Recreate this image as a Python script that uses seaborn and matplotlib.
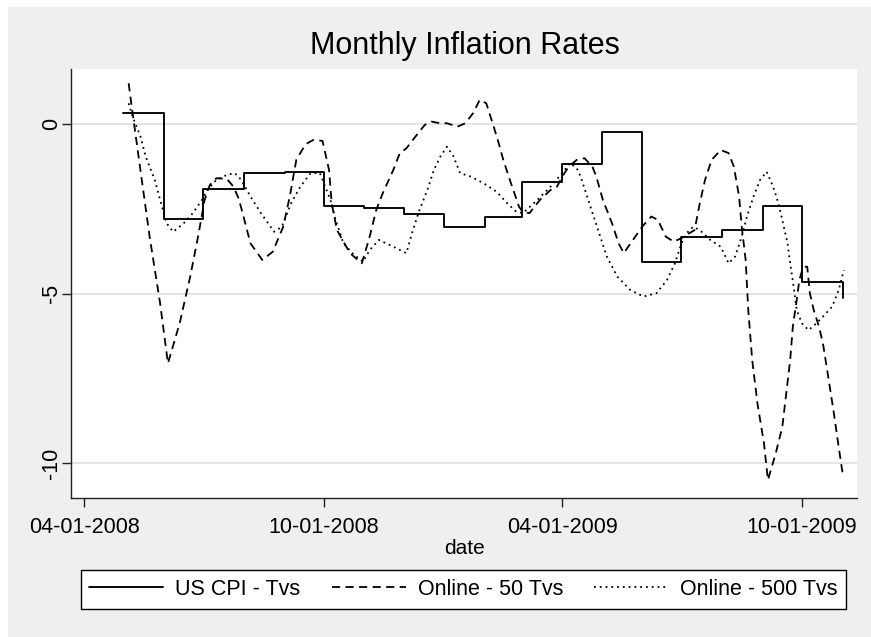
import numpy as np
import pandas as pd
import matplotlib
matplotlib.use("Agg")
import matplotlib.pyplot as plt
import matplotlib.dates as mdates
from matplotlib.patches import Rectangle
import seaborn as sns

# ---------------- data ----------------
cpi_dates = ["2008-05-01", "2008-06-01", "2008-07-01", "2008-08-01", "2008-09-01",
             "2008-10-01", "2008-11-01", "2008-12-01", "2009-01-01", "2009-02-01",
             "2009-03-01", "2009-04-01", "2009-05-01", "2009-06-01", "2009-07-01",
             "2009-08-01", "2009-09-01", "2009-10-01", "2009-11-01"]
cpi_values = [0.33, -2.79, -1.91, -1.45, -1.42, -2.42, -2.47, -2.65, -3.03, -2.74,
              -1.70, -1.18, -0.23, -4.08, -3.32, -3.13, -2.42, -4.67, -5.13]

online50_dates = ["2008-05-05", "2008-05-07", "2008-05-14", "2008-05-21", "2008-05-29",
                  "2008-06-04", "2008-06-13", "2008-06-21", "2008-06-27", "2008-07-02",
                  "2008-07-06", "2008-07-11", "2008-07-19", "2008-07-24", "2008-07-28",
                  "2008-07-31", "2008-08-06", "2008-08-15", "2008-08-23", "2008-08-31",
                  "2008-09-05", "2008-09-10", "2008-09-17", "2008-09-23", "2008-09-30",
                  "2008-10-05", "2008-10-07", "2008-10-11", "2008-10-21", "2008-10-30",
                  "2008-11-05", "2008-11-10", "2008-11-15", "2008-11-23", "2008-11-28",
                  "2008-12-03", "2008-12-10", "2008-12-17", "2008-12-22", "2008-12-29",
                  "2009-01-03", "2009-01-11", "2009-01-17", "2009-01-23", "2009-01-28",
                  "2009-02-02", "2009-02-07", "2009-02-11", "2009-02-15", "2009-02-20",
                  "2009-02-27", "2009-03-02", "2009-03-07", "2009-03-15", "2009-03-23",
                  "2009-03-28", "2009-04-01", "2009-04-06", "2009-04-12", "2009-04-18",
                  "2009-04-24", "2009-04-27", "2009-05-02", "2009-05-09", "2009-05-14",
                  "2009-05-18", "2009-05-25", "2009-06-01", "2009-06-08", "2009-06-13",
                  "2009-06-19", "2009-06-25", "2009-07-01", "2009-07-08", "2009-07-11",
                  "2009-07-15", "2009-07-19", "2009-07-24", "2009-07-31", "2009-08-06",
                  "2009-08-10", "2009-08-14", "2009-08-16", "2009-08-19", "2009-08-21",
                  "2009-08-24", "2009-08-28", "2009-09-02", "2009-09-05", "2009-09-11",
                  "2009-09-16", "2009-09-19", "2009-09-22", "2009-09-24", "2009-09-27",
                  "2009-09-29", "2009-10-02", "2009-10-05", "2009-10-07", "2009-10-10",
                  "2009-10-14", "2009-10-17", "2009-10-21", "2009-10-25", "2009-10-29",
                  "2009-11-01"]
online50_values = [1.20, 0.61, -1.36, -3.32, -5.28,
                   -7.06, -5.87, -4.50, -3.32, -2.24,
                   -1.80, -1.60, -1.62, -1.85, -2.20,
                   -2.63, -3.52, -4.01, -3.77, -3.03,
                   -2.14, -1.06, -0.60, -0.47, -0.50,
                   -1.36, -2.34, -3.13, -3.81, -4.11,
                   -3.32, -2.54, -2.04, -1.36, -0.86,
                   -0.72, -0.37, -0.03, 0.07, 0.02,
                   0.02, -0.08, 0.02, 0.32, 0.71,
                   0.61, 0.00, -0.50, -1.06, -1.65,
                   -2.44, -2.60, -2.63, -2.24, -1.95,
                   -1.85, -1.55, -1.26, -1.06, -1.01,
                   -1.26, -1.55, -2.24, -2.93, -3.52,
                   -3.81, -3.42, -3.03, -2.73, -2.83,
                   -3.32, -3.47, -3.37, -3.20, -3.13,
                   -2.34, -1.65, -1.06, -0.77, -0.86,
                   -1.26, -2.14, -3.03, -4.01, -5.49,
                   -6.96, -8.24, -9.42, -10.50, -9.71,
                   -8.93, -7.94, -6.96, -5.98, -5.19,
                   -4.60, -4.21, -4.21, -4.99, -5.49,
                   -5.98, -6.47, -7.45, -8.44, -9.52,
                   -10.30]

online500_dates = ["2008-05-05", "2008-05-08", "2008-05-14", "2008-05-18", "2008-05-25",
                   "2008-05-29", "2008-06-03", "2008-06-08", "2008-06-16", "2008-06-23",
                   "2008-06-30", "2008-07-04", "2008-07-11", "2008-07-19", "2008-07-25",
                   "2008-07-30", "2008-08-06", "2008-08-14", "2008-08-24", "2008-08-30",
                   "2008-09-06", "2008-09-13", "2008-09-21", "2008-09-28", "2008-10-06",
                   "2008-10-10", "2008-10-16", "2008-10-24", "2008-10-31", "2008-11-05",
                   "2008-11-12", "2008-11-23", "2008-12-03", "2008-12-08", "2008-12-13",
                   "2008-12-19", "2008-12-24", "2008-12-29", "2009-01-03", "2009-01-08",
                   "2009-01-13", "2009-01-21", "2009-01-31", "2009-02-10", "2009-02-18",
                   "2009-02-25", "2009-03-02", "2009-03-13", "2009-03-23", "2009-04-01",
                   "2009-04-07", "2009-04-12", "2009-04-15", "2009-04-20", "2009-04-25",
                   "2009-04-30", "2009-05-05", "2009-05-13", "2009-05-23", "2009-06-02",
                   "2009-06-12", "2009-06-20", "2009-06-26", "2009-07-01", "2009-07-05",
                   "2009-07-10", "2009-07-15", "2009-07-23", "2009-07-31", "2009-08-06",
                   "2009-08-11", "2009-08-16", "2009-08-20", "2009-08-25", "2009-08-30",
                   "2009-09-04", "2009-09-09", "2009-09-13", "2009-09-16", "2009-09-20",
                   "2009-09-22", "2009-09-25", "2009-09-27", "2009-10-01", "2009-10-06",
                   "2009-10-12", "2009-10-17", "2009-10-24", "2009-10-29", "2009-11-02"]
online500_values = [0.61, 0.22, -0.37, -0.96, -1.65,
                    -2.24, -2.93, -3.18, -2.93, -2.63,
                    -2.24, -1.95, -1.65, -1.50, -1.45,
                    -1.65, -2.14, -2.63, -3.18, -3.03,
                    -2.34, -1.85, -1.45, -1.45, -2.24,
                    -2.83, -3.52, -3.86, -4.06, -3.72,
                    -3.42, -3.62, -3.81, -3.13, -2.54,
                    -1.95, -1.36, -0.96, -0.67, -0.96,
                    -1.45, -1.55, -1.75, -2.00, -2.34,
                    -2.59, -2.63, -2.24, -1.85, -1.45,
                    -1.15, -1.30, -1.55, -2.14, -2.73,
                    -3.32, -3.91, -4.50, -4.90, -5.09,
                    -4.99, -4.60, -4.11, -3.52, -3.22,
                    -3.03, -3.13, -3.42, -3.62, -4.11,
                    -3.91, -3.32, -2.73, -2.14, -1.65,
                    -1.41, -1.85, -2.34, -2.83, -3.52,
                    -4.11, -4.90, -5.49, -5.88, -6.08,
                    -5.88, -5.68, -5.39, -4.90, -4.31]

series_labels = ["US CPI - Tvs", "Online - 50 Tvs", "Online - 500 Tvs"]
xtick_dates = ["2008-04-01", "2008-10-01", "2009-04-01", "2009-10-01"]
ytick_values = [0, -5, -10]
title_text = "Monthly Inflation Rates"
xlabel_text = "date"

# ---------------- style ----------------
sns.set_style("white")
plt.rcParams["font.family"] = ["Liberation Sans", "DejaVu Sans"]
plt.rcParams["text.color"] = "black"
plt.rcParams["axes.labelcolor"] = "black"
plt.rcParams["xtick.color"] = "black"
plt.rcParams["ytick.color"] = "black"

BG = "#EFEFEF"
fig = plt.figure(figsize=(8.71, 6.37), dpi=100)
fig.patch.set_facecolor("white")
fig.patches.append(Rectangle((8 / 871, 0), 1, 1 - 7 / 637, transform=fig.transFigure,
                             facecolor=BG, edgecolor="none", zorder=-10))

ax = fig.add_axes([71 / 871, 1 - 498 / 637, (857 - 71) / 871, (498 - 69) / 637])
ax.set_facecolor("white")

cpi = pd.DataFrame({"date": pd.to_datetime(cpi_dates), "value": cpi_values})
o50 = pd.DataFrame({"date": pd.to_datetime(online50_dates), "value": online50_values})
o500 = pd.DataFrame({"date": pd.to_datetime(online500_dates), "value": online500_values})

sns.lineplot(data=cpi, x="date", y="value", ax=ax, color="black", lw=1.35,
             drawstyle="steps-post", label=series_labels[0])
sns.lineplot(data=o50, x="date", y="value", ax=ax, color="black", lw=1.3,
             linestyle=(0, (4.5, 3)), label=series_labels[1])
sns.lineplot(data=o500, x="date", y="value", ax=ax, color="black", lw=1.3,
             linestyle=(0, (1, 2.2)), label=series_labels[2])

ax.set_xlim(pd.Timestamp("2008-03-22"), pd.Timestamp("2009-11-12"))
ax.set_ylim(-11.03, 1.62)

ax.set_xticks(pd.to_datetime(xtick_dates))
ax.xaxis.set_major_formatter(mdates.DateFormatter("%m-%d-%Y"))
ax.set_yticks(ytick_values)
ax.set_yticklabels([str(v) for v in ytick_values], rotation=90, va="center")

ax.tick_params(axis="both", direction="out", length=6.5, width=1, color="#222222",
               labelsize=15.5, labelcolor="black")
ax.tick_params(axis="x", pad=7, bottom=True)
ax.tick_params(axis="y", pad=0, left=True)

ax.grid(axis="y", color="#E4E4E4", lw=1.4)
ax.grid(axis="x", visible=False)
ax.set_axisbelow(True)
for s in ["top", "right"]:
    ax.spines[s].set_visible(False)
for s in ["left", "bottom"]:
    ax.spines[s].set_color("#222222")
    ax.spines[s].set_linewidth(1.0)

ax.set_xlabel(xlabel_text, fontsize=15, labelpad=1, color="black")
ax.set_ylabel("")
fig.text(465 / 871, 1 - 46 / 637, title_text, ha="center", va="center", fontsize=22,
         color="black")

handles, labels = ax.get_legend_handles_labels()
ax.get_legend().remove()
leg = fig.legend(handles, labels, loc="center", bbox_to_anchor=(463.5 / 871, 1 - 589.5 / 637),
                 ncol=3, frameon=True, fancybox=False, edgecolor="black", facecolor="white",
                 fontsize=15.5, handlelength=3.45, columnspacing=1.45, handletextpad=0.55,
                 borderpad=0.4, borderaxespad=0, framealpha=1)
leg.get_frame().set_linewidth(1.0)
for t in leg.get_texts():
    t.set_color("black")

fig.savefig("out.png", dpi=100, facecolor=fig.get_facecolor())
